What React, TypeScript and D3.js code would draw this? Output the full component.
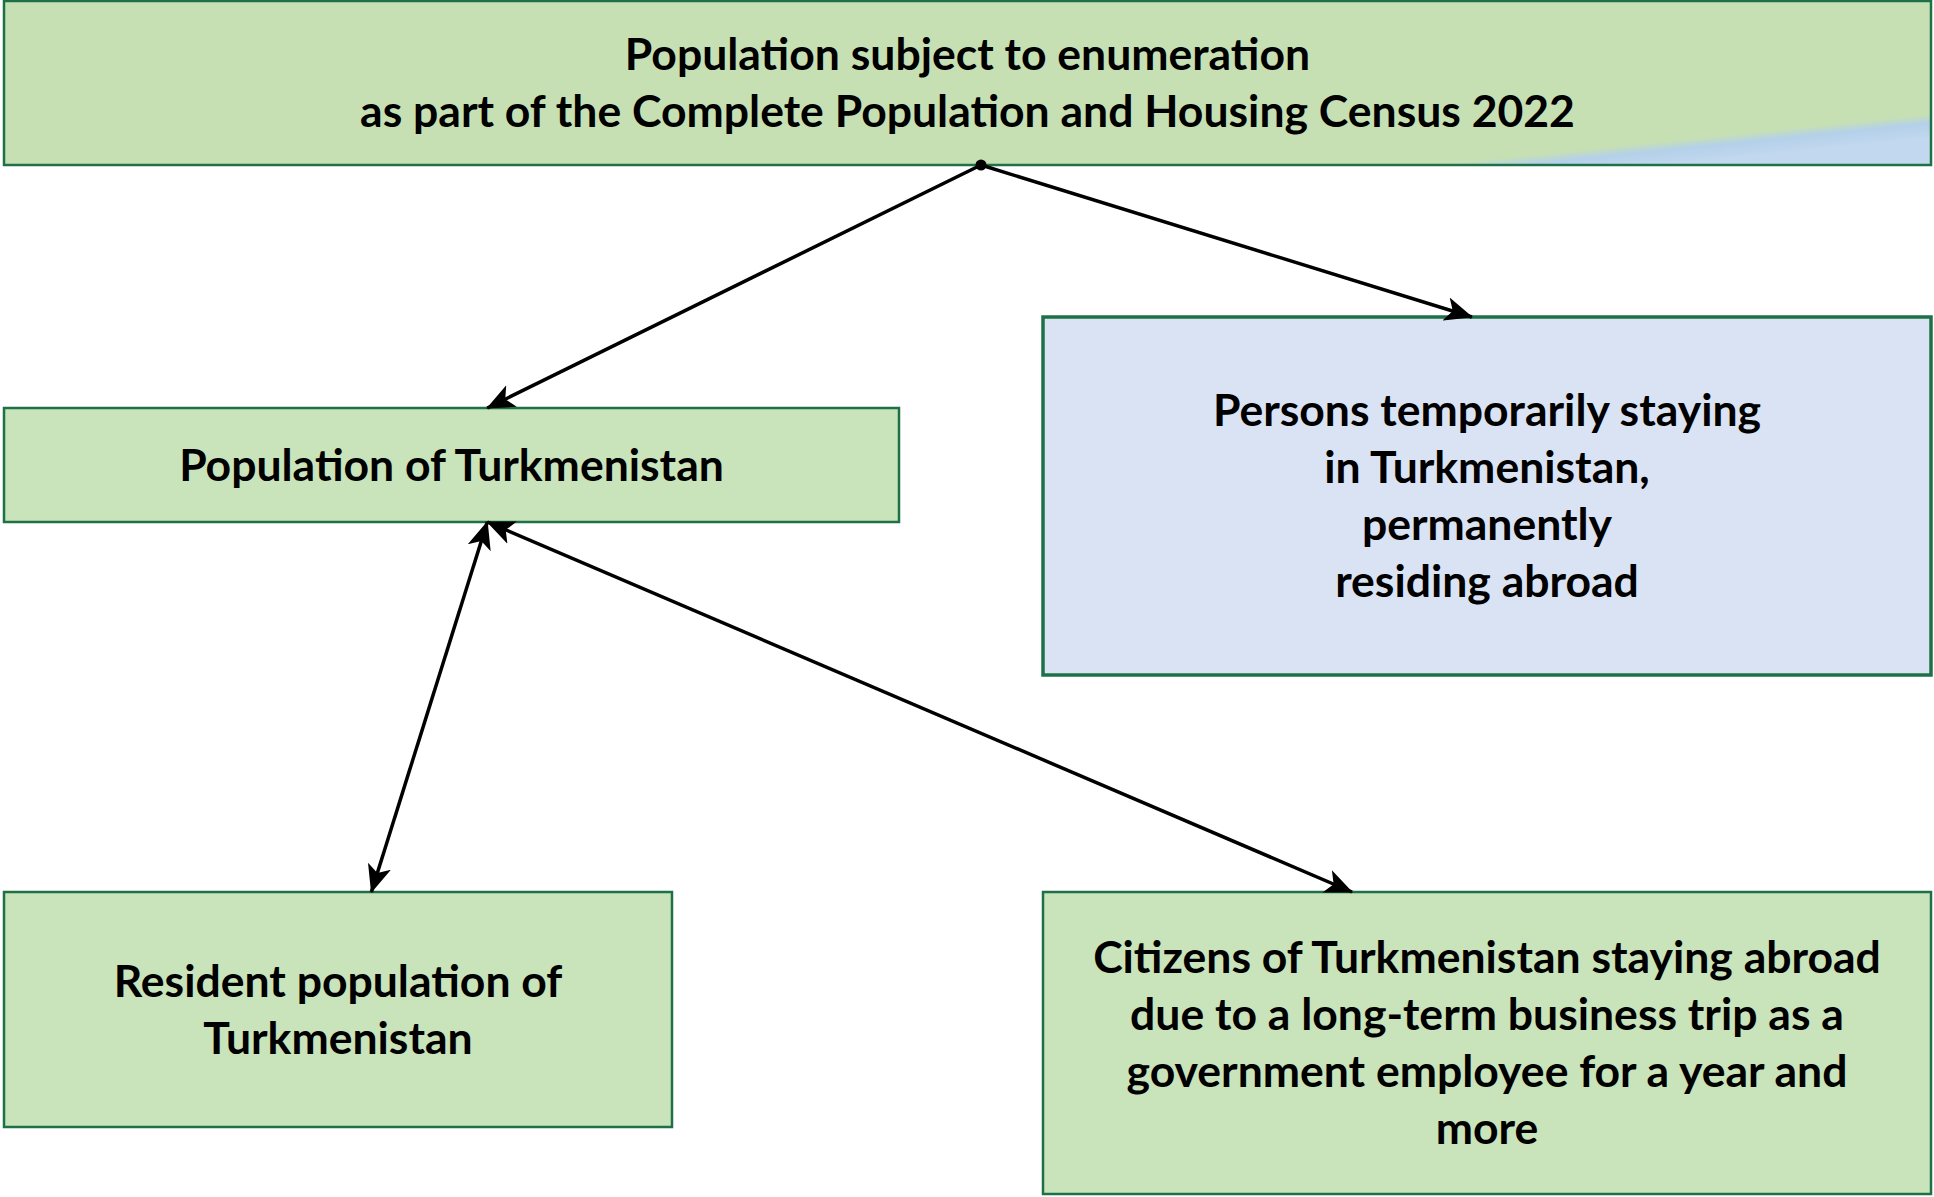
import React from "react";
import * as d3 from "d3";

const W = 1934;
const H = 1197;

// node labels (one entry per line)
const topLabel = ["Population subject to enumeration", "as part of the Complete Population and Housing Census 2022"];
const popLabel = ["Population of Turkmenistan"];
const tempLabel = ["Persons temporarily staying", "in Turkmenistan,", "permanently", "residing abroad"];
const residentLabel = ["Resident population of", "Turkmenistan"];
const citizensLabel = [
  "Citizens of Turkmenistan staying abroad",
  "due to a long-term business trip as a",
  "government employee for a year and",
  "more",
];

const nodeIds = ["top", "pop", "temp", "resident", "citizens"];
const nodeLabels = [topLabel, popLabel, tempLabel, residentLabel, citizensLabel];
const nodeKinds = ["green", "green", "blue", "green", "green"];

// edges
const edgeFrom = ["top", "top", "pop", "pop"];
const edgeTo = ["pop", "temp", "resident", "citizens"];
const edgeDoubleHead = [false, false, true, true];

// layout (page pixels)
const boxes: Record<string, { x0: number; y0: number; x1: number; y1: number }> = {
  top: { x0: 4, y0: 1, x1: 1931, y1: 165 },
  pop: { x0: 4, y0: 408, x1: 899, y1: 522 },
  temp: { x0: 1043, y0: 317, x1: 1931, y1: 675 },
  resident: { x0: 4, y0: 892, x1: 672, y1: 1127 },
  citizens: { x0: 1043, y0: 892, x1: 1931, y1: 1194 },
};
// anchor points as fraction of box width on top / bottom edges
const anchors: Record<string, Record<string, number>> = {
  top: { pop: 0.507, temp: 0.507 },
  pop: { top: 0.54, resident: 0.54, citizens: 0.54 },
  temp: { top: 0.483 },
  resident: { pop: 0.55 },
  citizens: { pop: 0.348 },
};

const FONT = "Lato, 'Open Sans', sans-serif";
const FS = 44.5;
const LH = 57;

function anchorPoint(id: string, other: string, bottom: boolean): [number, number] {
  const b = boxes[id];
  const x = d3.interpolateNumber(b.x0, b.x1)(anchors[id][other]);
  return [x, bottom ? b.y1 : b.y0];
}

export default function App() {
  const line = d3.line();
  return (
    <svg width={W} height={H} style={{ position: "absolute", left: 0, top: 0, background: "#fff" }}>
      <defs>
        <linearGradient id="topGrad" gradientUnits="userSpaceOnUse" x1={1929} y1={99} x2={1933} y2={138}>
          <stop offset="0" stopColor="#c6e0b4" />
          <stop offset="0.38" stopColor="#c6e0b4" />
          <stop offset="0.62" stopColor="#b4d0ea" />
          <stop offset="1" stopColor="#c2d8ee" />
        </linearGradient>
        <marker id="arrow" viewBox="0 -13 28 26" refX={27} refY={0} markerWidth={28} markerHeight={26}
          markerUnits="userSpaceOnUse" orient="auto-start-reverse">
          <path d="M0,-12 L28,0 L0,12 L7,0 Z" fill="#000" />
        </marker>
      </defs>
      {nodeIds.map((id, i) => {
        const b = boxes[id];
        const kind = nodeKinds[i];
        const fill = id === "top" ? "url(#topGrad)" : kind === "blue" ? "#dae3f3" : "#c9e3ba";
        const lines = nodeLabels[i];
        const cx = (b.x0 + b.x1) / 2;
        const cy = (b.y0 + b.y1) / 2;
        const startY = cy - ((lines.length - 1) * LH) / 2;
        return (
          <g key={id}>
            <rect x={b.x0} y={b.y0} width={b.x1 - b.x0} height={b.y1 - b.y0} fill={fill}
              stroke="#1e7147" strokeWidth={kind === "blue" ? 3.5 : 2.5} />
            {lines.map((t, j) => (
              <text key={j} x={cx} y={startY + j * LH} dy="0.35em" textAnchor="middle"
                fontFamily={FONT} fontWeight={700} fontSize={FS} fill="#000">{t}</text>
            ))}
          </g>
        );
      })}
      {edgeFrom.map((f, i) => {
        const t = edgeTo[i];
        const p0 = anchorPoint(f, t, true);
        const p1 = anchorPoint(t, f, false);
        return (
          <path key={i} d={line([p0, p1]) || ""} fill="none" stroke="#000" strokeWidth={3.5}
            markerEnd="url(#arrow)" markerStart={edgeDoubleHead[i] ? "url(#arrow)" : undefined} />
        );
      })}
      <circle cx={anchorPoint("top", "pop", true)[0]} cy={boxes.top.y1} r={5.5} fill="#000" />
    </svg>
  );
}
